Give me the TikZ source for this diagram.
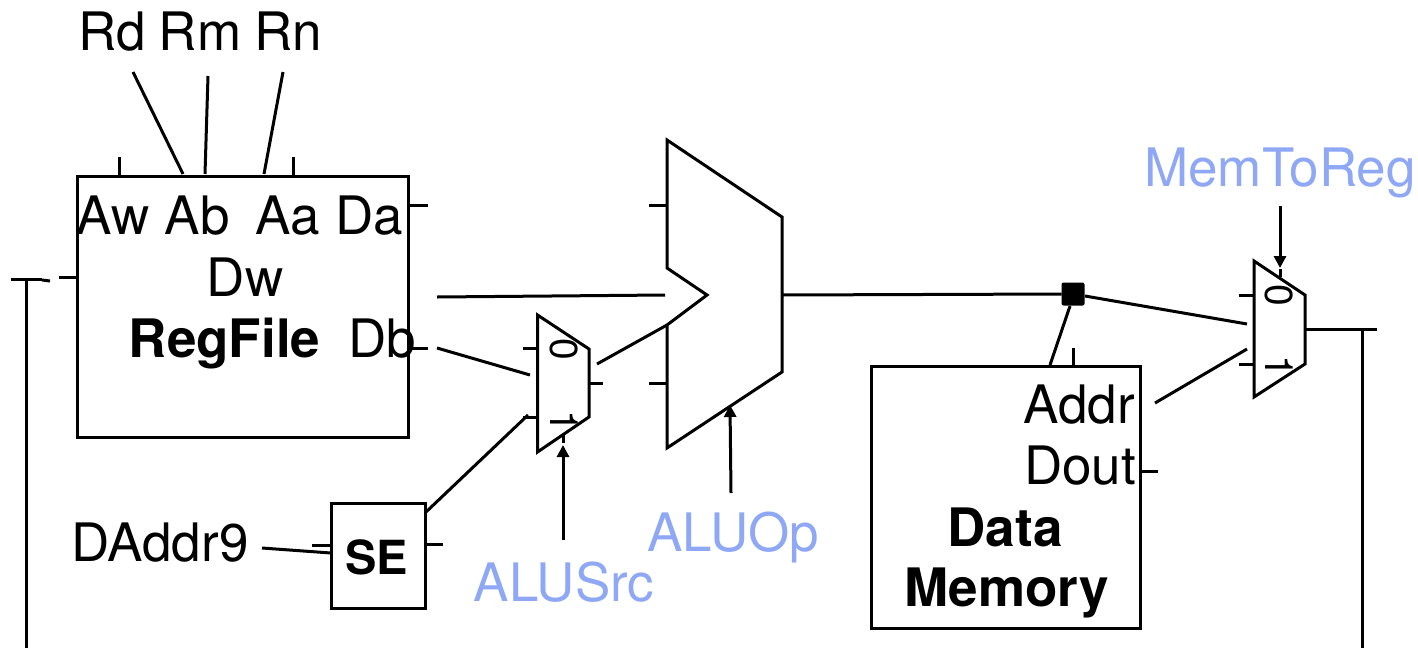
\documentclass[tikz,border=0pt]{standalone}
\usepackage{fontspec}
\setmainfont{TeX Gyre Heros}
\usetikzlibrary{arrows.meta}
\definecolor{ctrl}{HTML}{8FA8F5}
\tikzset{
  wire/.style={line width=3pt,line cap=butt,black},
  shapeline/.style={line width=3pt,line join=miter,black},
  ctlarrow/.style={wire,-{Triangle[length=12pt,width=12pt]}},
  lbl/.style={anchor=base,inner sep=0pt,font=\fontsize{53}{53}\selectfont},
  bold/.style={lbl,font=\fontsize{53}{53}\selectfont\bfseries},
  ctl/.style={lbl,text=ctrl},
  muxno/.style={anchor=center,inner sep=0pt,rotate=-90,font=\fontsize{39}{39}\selectfont},
  boxn/.style={draw,shapeline,inner sep=0pt,outer sep=0pt,anchor=north west}
}
\begin{document}
\begin{tikzpicture}[x=1pt,y=-1pt]
\useasboundingbox (0,0) rectangle (1418,648);
% boxes
\node[boxn,minimum width=331.5pt,minimum height=261pt] (rf) at (77,176) {};
\node[boxn,minimum width=269.5pt,minimum height=262pt] (dm) at (871,366) {};
\node[boxn,minimum width=94pt,minimum height=105pt] (se) at (331,503) {};
\node[fill=black,rounded corners=2pt,minimum size=23pt,inner sep=0pt,outer sep=0pt] (jn) at (1073,294) {};
% mux 1
\coordinate (m1a) at (537.5,315); \coordinate (m1b) at (589,349);
\coordinate (m1c) at (589,417); \coordinate (m1d) at (537.5,452);
\draw[shapeline] (m1a)--(m1b)--(m1c)--(m1d)--cycle;
% mux 2
\coordinate (m2a) at (1254,261); \coordinate (m2b) at (1305,295);
\coordinate (m2c) at (1305,364); \coordinate (m2d) at (1254,397);
\draw[shapeline] (m2a)--(m2b)--(m2c)--(m2d)--cycle;
% ALU
\coordinate (a1) at (667,140); \coordinate (a2) at (782,217);
\coordinate (a3) at (782,372); \coordinate (a4) at (667,448);
\coordinate (a5) at (667,325); \coordinate (a6) at (707,295);
\coordinate (a7) at (667,268);
\draw[shapeline] (a1)--(a2)--(a3)--(a4)--(a5)--(a6)--(a7)--cycle;
% text
\node[lbl] (trd) at (112,50) {Rd};
\node[lbl] (trm) at (200,50) {Rm};
\node[lbl] (trn) at (288,50) {Rn};
\node[lbl] (taw) at (113,234) {Aw};
\node[lbl] (tab) at (197,234) {Ab};
\node[lbl] (taa) at (288,234) {Aa};
\node[lbl] (tda) at (369,234) {Da};
\node[lbl] (tdw) at (245,296) {Dw};
\node[bold] (trf) at (224.5,357) {RegFile};
\node[lbl] (tdb) at (382,357) {Db};
\node[lbl] (tda9) at (160,561) {DAddr9};
\node[bold,font=\fontsize{47}{47}\selectfont\bfseries] (tse) at (376.5,574) {SE};
\node[lbl] (tad) at (1079,423) {Addr};
\node[lbl] (tdo) at (1080,484) {Dout};
\node[bold] (tdata) at (1005,546) {Data};
\node[bold] (tmem) at (1007,606) {Memory};
\node[ctl] (tsrc) at (564,601) {ALUSrc};
\node[ctl] (top) at (733,551) {ALUOp};
\node[ctl] (tm2r) at (1280,186) {MemToReg};
\node[muxno] (m10) at (564,349) {0};
\node[muxno] (m11) at (564,421) {1};
\node[muxno] (m20) at (1279,295) {0};
\node[muxno] (m21) at (1279,366) {1};
% free ends
\foreach \n/\x/\y in {
 p1/133/72, p2/183/174, p3/208/76, p4/205/174, p5/283/72, p6/264/174,
 t1/119/157, t2/119/176, t3/293/157, t4/293/176,
 d1/409/205, d2/428/205, d3/412/348, d4/428/348,
 l1/11/279, l2/42/279, l3/42/280, l4/50/281, l5/26/279, l6/26/648, l7/59/277, l8/77/277,
 r1/437/297, r2/665/295, r3/437/348, r4/530/375,
 u1/523/348, u2/537/348, u3/523/417, u4/537/417, u5/589/383, u6/603/383,
 v1/597/364, v2/667/325, s1/426/512, s2/528/415,
 c1/563/540, c2/563/445, c3/563/443, c4/563/435,
 f1/649/205, f2/667/205, f3/649/383, f4/667/383,
 o1/731/493, o2/730/405, h1/782/295,
 q1/1085/296, q2/1247/324, q3/1070/306, q4/1050/365,
 q5/1073/348, q6/1073/366, q7/1141/471, q8/1158/471, q9/1155/403, q10/1247/349,
 w1/1239/295, w2/1254/295, w3/1239/364, w4/1254/364, w5/1305/329, w6/1377/329, w7/1362/329, w8/1362/648,
 y1/1280/206, y2/1280/268, y3/1280/269, y4/1280/277,
 e1/312/545, e2/331/545, e3/425/544, e4/443/544, e5/262/548, e6/331/553}
 {\coordinate (\n) at (\x,\y);}
% connectors
\foreach \a/\b in {p1/p2,p3/p4,p5/p6,t1/t2,t3/t4,d1/d2,d3/d4,l1/l2,l3/l4,l5/l6,l7/l8,
 r1/r2,r3/r4,u1/u2,u3/u4,u5/u6,v1/v2,s1/s2,c3/c4,f1/f2,f3/f4,
 q1/q2,q3/q4,q5/q6,q7/q8,q9/q10,w1/w2,w3/w4,w5/w6,w7/w8,y3/y4,e1/e2,e3/e4,e5/e6}
 {\draw[wire] (\a)--(\b);}
\draw[wire] (h1)--(jn.west);
\draw[ctlarrow] (c1)--(c2);
\draw[ctlarrow] (o1)--(o2);
\draw[ctlarrow] (y1)--(y2);
\end{tikzpicture}
\end{document}
